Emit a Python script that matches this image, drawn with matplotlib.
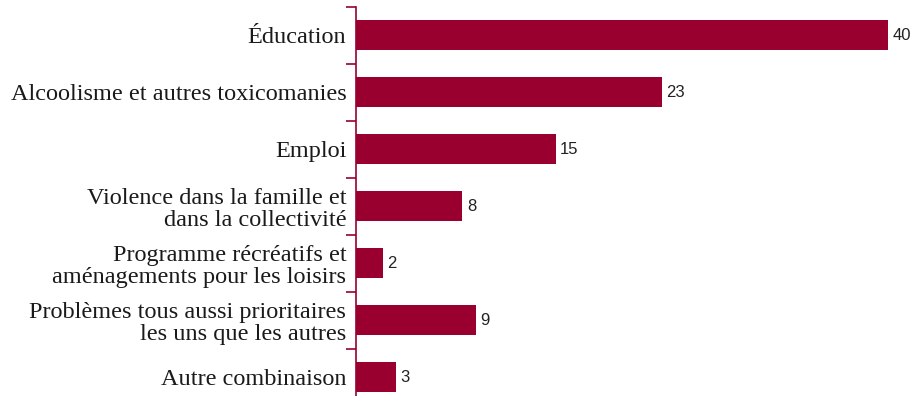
import matplotlib
matplotlib.use("Agg")
import matplotlib.pyplot as plt
import numpy as np

categories = [
    "Éducation",
    "Alcoolisme et autres toxicomanies",
    "Emploi",
    "Violence dans la famille et\ndans la collectivité",
    "Programme récréatifs et\naménagements pour les loisirs",
    "Problèmes tous aussi prioritaires\nles uns que les autres",
    "Autre combinaison",
]
values = [40, 23, 15, 8, 2, 9, 3]

bar_color = "#990030"
W, H = 913, 396
fig = plt.figure(figsize=(W / 100, H / 100), dpi=100)

left_px, right_px = 356, 913
top_px, bottom_px = 6.5, 405.5
ax = fig.add_axes([left_px / W, 1 - bottom_px / H,
                   (right_px - left_px) / W, (bottom_px - top_px) / H])

y = np.arange(len(categories))
ax.barh(y, values, height=0.53, color=bar_color, edgecolor="none")
ax.set_ylim(len(categories) - 0.5, -0.5)
ax.set_xlim(0, 40 * (right_px - left_px) / (888 - left_px))

for yi, v in zip(y, values):
    ax.text(v + 0.35, yi, str(v), va="center", ha="left", fontsize=12,
            family=["Liberation Sans Narrow", "Liberation Sans"], color="#222222")

ax.set_yticks(y)
ax.set_yticklabels(categories, fontsize=17.5, family="Liberation Serif",
                   color="#1a1a1a", linespacing=1.08)
ax.tick_params(axis="y", which="major", length=0, pad=7)
ax.set_yticks(np.arange(-0.5, len(categories) + 0.5, 1), minor=True)
ax.tick_params(axis="y", which="minor", length=7, width=1.2, color=bar_color,
               direction="out")
for lbl in ax.get_yticklabels():
    lbl.set_multialignment("right")

for s in ["top", "right", "bottom"]:
    ax.spines[s].set_visible(False)
ax.spines["left"].set_color(bar_color)
ax.spines["left"].set_linewidth(1.2)
ax.set_xticks([])
ax.patch.set_visible(False)

fig.savefig("out.png", dpi=100)
